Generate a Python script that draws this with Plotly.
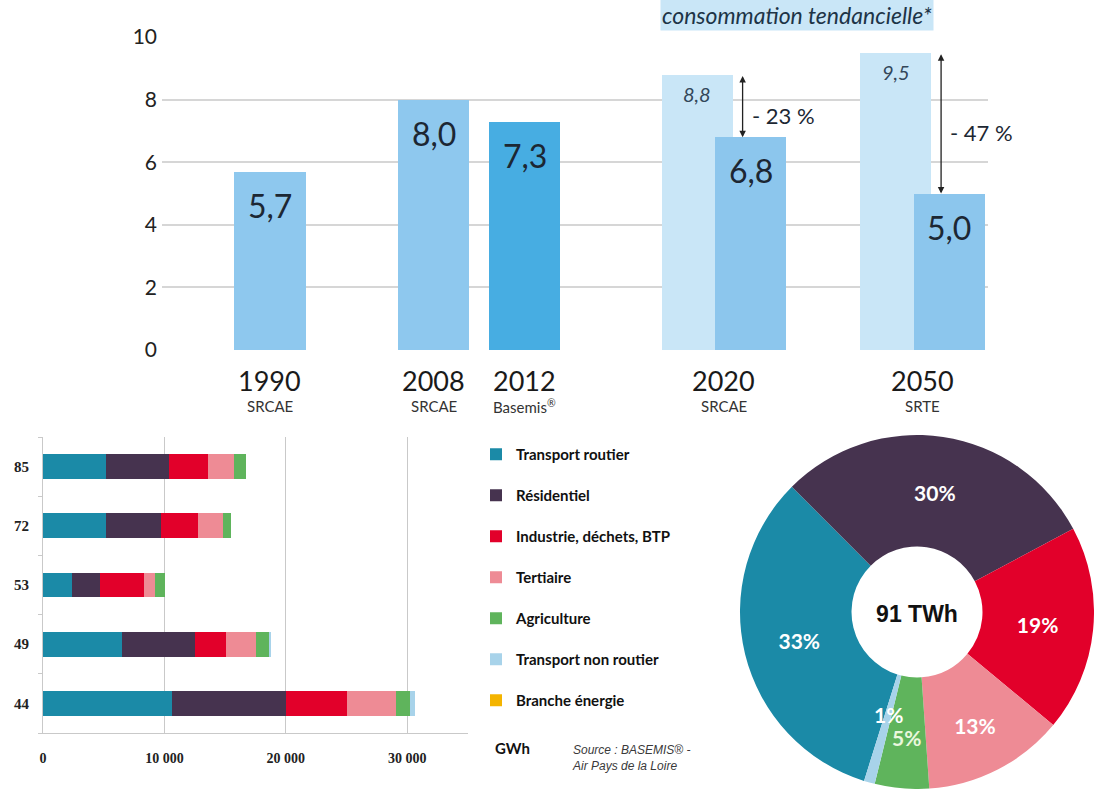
import math
import plotly.graph_objects as go

W, H = 1094, 789

# ---------------- Data: top chart (Mtep) ----------------
YEARS = ["1990", "2008", "2012", "2020", "2050"]
SOURCES = ["SRCAE", "SRCAE", "Basemis<sup>®</sup>", "SRCAE", "SRTE"]
HIST_YEARS = ["1990", "2008"]
HIST_VALUES = [5.7, 8.0]
BASEMIS_YEARS = ["2012"]
BASEMIS_VALUES = [7.3]
PROJ_YEARS = ["2020", "2050"]
TREND_VALUES = [8.8, 9.5]
TARGET_VALUES = [6.8, 5.0]
REDUCTION_LABELS = ["- 23 %", "- 47 %"]
Y_TICKS = [0, 2, 4, 6, 8, 10]
TREND_LABEL = "consommation tendancielle*"

# ---------------- Data: bottom-left stacked bars (GWh) ----------------
DEPARTMENTS = ["44", "49", "53", "72", "85"]
SECTORS = ["Transport routier", "Résidentiel", "Industrie, déchets, BTP",
           "Tertiaire", "Agriculture", "Transport non routier", "Branche énergie"]
TRANSPORT_ROUTIER = [10600, 6500, 2400, 5200, 5200]
RESIDENTIEL = [9400, 6000, 2300, 4500, 5200]
INDUSTRIE = [5000, 2600, 3600, 3100, 3200]
TERTIAIRE = [4100, 2400, 900, 2000, 2100]
AGRICULTURE = [1150, 1150, 850, 700, 1000]
TRANSPORT_NON_ROUTIER = [400, 100, 0, 0, 0]
BRANCHE_ENERGIE = [0, 0, 0, 0, 0]
X_TICKS = [0, 10000, 20000, 30000]
X_TICK_LABELS = ["0", "10 000", "20 000", "30 000"]

# ---------------- Data: donut (%) ----------------
PIE_SHARES = [33, 30, 19, 13, 5, 1, 0]
PIE_TOTAL_LABEL = "91 TWh"

# ---------------- Styles / layout ----------------
SECTOR_COLORS = ["#1b8aa7", "#46334f", "#e2002a", "#ee8b95", "#5fb45c", "#a8d3ea", "#f4b400"]
C_HIST = "#8ec8ee"
C_BASEMIS = "#47ade2"
C_TREND = "#c9e6f7"
C_TARGET = "#8cc6ed"
TXT = "#1c2733"

SLOT = {"1990": 0.0, "2008": 1.84, "2012": 2.86, "2020": 5.1, "2050": 7.33}
PAIR = 0.3
BAR_W = 0.8
ARROW_DX = 0.21

PIE_BOX = (740, 435, 1094, 789)        # px: left, top, right, bottom
PIE_ROTATION = 197.4
SMALL_LABEL_RADIUS = {4: 0.71, 5: 0.6}  # slices labelled outside plotly's auto text
SMALL_LABEL_COLORS = {4: "#eaf7dd", 5: "white"}


def px_x(p):
    return p / W


def px_y(p):
    return (H - p) / H


fig = go.Figure()

# --- top chart bars
fig.add_trace(go.Bar(x=[SLOT[y] for y in HIST_YEARS], y=HIST_VALUES, width=BAR_W,
                     marker=dict(color=C_HIST, line_width=0), showlegend=False,
                     xaxis="x", yaxis="y", hoverinfo="y"))
fig.add_trace(go.Bar(x=[SLOT[y] for y in BASEMIS_YEARS], y=BASEMIS_VALUES, width=BAR_W,
                     marker=dict(color=C_BASEMIS, line_width=0), showlegend=False,
                     xaxis="x", yaxis="y", hoverinfo="y"))
fig.add_trace(go.Bar(x=[SLOT[y] - PAIR for y in PROJ_YEARS], y=TREND_VALUES, width=BAR_W,
                     marker=dict(color=C_TREND, line_width=0), showlegend=False,
                     xaxis="x", yaxis="y", hoverinfo="y"))
fig.add_trace(go.Bar(x=[SLOT[y] + PAIR for y in PROJ_YEARS], y=TARGET_VALUES, width=BAR_W,
                     marker=dict(color=C_TARGET, line_width=0), showlegend=False,
                     xaxis="x", yaxis="y", hoverinfo="y"))

# --- bottom-left stacked horizontal bars
series = [TRANSPORT_ROUTIER, RESIDENTIEL, INDUSTRIE, TERTIAIRE, AGRICULTURE,
          TRANSPORT_NON_ROUTIER, BRANCHE_ENERGIE]
for i, (name, vals) in enumerate(zip(SECTORS, series)):
    fig.add_trace(go.Bar(y=DEPARTMENTS, x=vals, name=name, orientation="h",
                         marker=dict(color=SECTOR_COLORS[i], line_width=0),
                         width=0.42, xaxis="x2", yaxis="y2",
                         legendgroup=f"g{i}", showlegend=True))

# --- donut
pie_text = [f"{v}%" if (v and i not in SMALL_LABEL_RADIUS) else ""
            for i, v in enumerate(PIE_SHARES)]
fig.add_trace(go.Pie(values=PIE_SHARES, labels=SECTORS,
                     text=pie_text, textinfo="text",
                     textposition="inside", insidetextorientation="horizontal",
                     textfont=dict(family="Lato", size=21, color="white", weight="bold"),
                     marker=dict(colors=SECTOR_COLORS, line=dict(width=0)),
                     hole=0.37, sort=False, direction="clockwise", rotation=PIE_ROTATION,
                     domain=dict(x=[px_x(PIE_BOX[0]), px_x(PIE_BOX[2])],
                                 y=[px_y(PIE_BOX[3]), px_y(PIE_BOX[1])]),
                     title=dict(text=PIE_TOTAL_LABEL, position="middle center",
                                font=dict(family="Liberation Sans", size=23,
                                          color="#111", weight="bold")),
                     showlegend=False, hoverinfo="label+percent"))

ann = []
# labels of the thin donut slices, placed from the donut geometry
cx = (PIE_BOX[0] + PIE_BOX[2]) / 2
cy = (PIE_BOX[1] + PIE_BOX[3]) / 2
R = min(PIE_BOX[2] - PIE_BOX[0], PIE_BOX[3] - PIE_BOX[1]) / 2
total = sum(PIE_SHARES)
cum = 0
for i, v in enumerate(PIE_SHARES):
    if i in SMALL_LABEL_RADIUS and v:
        theta = math.radians(PIE_ROTATION + 360 * (cum + v / 2) / total)
        r = SMALL_LABEL_RADIUS[i] * R
        ann.append(dict(x=px_x(cx + r * math.sin(theta)), y=px_y(cy - r * math.cos(theta)),
                        xref="paper", yref="paper", xanchor="center", yanchor="middle",
                        text=f"{v}%", showarrow=False,
                        font=dict(family="Lato", size=21, color=SMALL_LABEL_COLORS[i],
                                  weight="bold")))
    cum += v

# value labels on top chart
for y, v in zip(HIST_YEARS + BASEMIS_YEARS, HIST_VALUES + BASEMIS_VALUES):
    ann.append(dict(x=SLOT[y], y=v, xref="x", yref="y", yanchor="top", yshift=-12,
                    text=f"{v:.1f}".replace(".", ","), showarrow=False,
                    font=dict(family="Lato", size=32, color=TXT)))
for y, v in zip(PROJ_YEARS, TARGET_VALUES):
    ann.append(dict(x=SLOT[y] + PAIR, y=v, xref="x", yref="y", yanchor="top", yshift=-12,
                    text=f"{v:.1f}".replace(".", ","), showarrow=False,
                    font=dict(family="Lato", size=32, color=TXT)))
for y, v in zip(PROJ_YEARS, TREND_VALUES):
    ann.append(dict(x=SLOT[y] - PAIR, y=v, xref="x", yref="y", yanchor="top", yshift=-5,
                    text=f"<i>{v:.1f}</i>".replace(".", ","), showarrow=False,
                    font=dict(family="Lato", size=20, color="#33475a")))
# reduction arrows
for y, hi, lo, lab in zip(PROJ_YEARS, TREND_VALUES, TARGET_VALUES, REDUCTION_LABELS):
    ann.append(dict(x=SLOT[y] + ARROW_DX, y=lo, ax=SLOT[y] + ARROW_DX, ay=hi,
                    xref="x", yref="y", axref="x", ayref="y", text="",
                    showarrow=True, arrowside="end+start", arrowhead=2, arrowsize=1,
                    arrowwidth=1.3, arrowcolor="#222", standoff=0, startstandoff=0))
    ann.append(dict(x=SLOT[y] + ARROW_DX, y=(hi + lo) / 2 - 0.3, xref="x", yref="y",
                    xanchor="left", xshift=7, text=lab, showarrow=False,
                    font=dict(family="Lato", size=22, color=TXT)))
# year labels
for y, src in zip(YEARS, SOURCES):
    ann.append(dict(x=SLOT[y], y=0, xref="x", yref="y", yanchor="top", yshift=-13,
                    text=y, showarrow=False, borderpad=0,
                    font=dict(family="Lato", size=27, color="#1a1a1a")))
    ann.append(dict(x=SLOT[y], y=0, xref="x", yref="y", yanchor="top", yshift=-46,
                    text=src, showarrow=False, borderpad=0,
                    font=dict(family="Lato", size=15, color="#333")))
# trend legend box
ann.append(dict(x=px_x(797), y=1.0, xref="paper", yref="paper", xanchor="center",
                yanchor="top", yshift=1, text=f"<i>{TREND_LABEL}</i>", showarrow=False,
                bgcolor=C_TREND, borderpad=1,
                font=dict(family="Lato", size=23, color="#1d3447")))
# GWh unit & source
ann.append(dict(x=px_x(493), y=px_y(748), xref="paper", yref="paper", xanchor="left",
                yanchor="middle", text="GWh", showarrow=False,
                font=dict(family="Lato", size=15, color="#111", weight="bold")))
ann.append(dict(x=px_x(570), y=px_y(758), xref="paper", yref="paper", xanchor="left",
                yanchor="middle", align="left",
                text="<i>Source : BASEMIS® -<br>Air Pays de la Loire</i>",
                showarrow=False,
                font=dict(family="Liberation Sans", size=12, color="#3a3a3a")))

fig.update_layout(
    width=W, height=H, margin=dict(l=0, r=0, t=0, b=0, autoexpand=False),
    paper_bgcolor="white", plot_bgcolor="rgba(0,0,0,0)",
    barmode="stack", bargap=0,
    font=dict(family="Lato", color=TXT),
    annotations=ann,
    xaxis=dict(domain=[px_x(162), px_x(988)], range=[-1.213, 8.067], automargin=False,
               showgrid=False, zeroline=False, showticklabels=False, fixedrange=True),
    yaxis=dict(domain=[px_y(350), px_y(37)], range=[0, 10], tickvals=Y_TICKS,
               automargin=False,
               showgrid=True, gridcolor="#d6d6d6", gridwidth=1.5, zeroline=False,
               tickfont=dict(family="Lato", size=21, color="#222"),
               ticklabelstandoff=4, fixedrange=True),
    xaxis2=dict(domain=[px_x(43), px_x(468)], range=[0, 35000], anchor="y2",
                automargin=False,
                tickvals=X_TICKS, ticktext=X_TICK_LABELS,
                showgrid=True, gridcolor="#c9c9c9", zeroline=False,
                showline=True, linecolor="#c9c9c9",
                tickfont=dict(family="Liberation Serif", size=14, color="#222", weight="bold"),
                ticklabelstandoff=12, fixedrange=True),
    yaxis2=dict(domain=[px_y(733), px_y(437)], anchor="x2", type="category",
                automargin=False,
                categoryorder="array", categoryarray=DEPARTMENTS,
                range=[-0.5, 4.5], showline=True, linecolor="#c9c9c9",
                ticks="outside", tickson="boundaries", ticklen=4, tickcolor="#c9c9c9",
                tickfont=dict(family="Liberation Serif", size=15, color="#222", weight="bold"),
                ticklabelstandoff=10, fixedrange=True),
    legend=dict(x=px_x(476), y=px_y(438), xanchor="left", yanchor="top",
                traceorder="grouped", tracegroupgap=18.5, bgcolor="rgba(0,0,0,0)",
                font=dict(family="Lato", size=15, color="#111", weight="bold"),
                itemclick=False, itemdoubleclick=False),
)

fig.write_html("out.html")
